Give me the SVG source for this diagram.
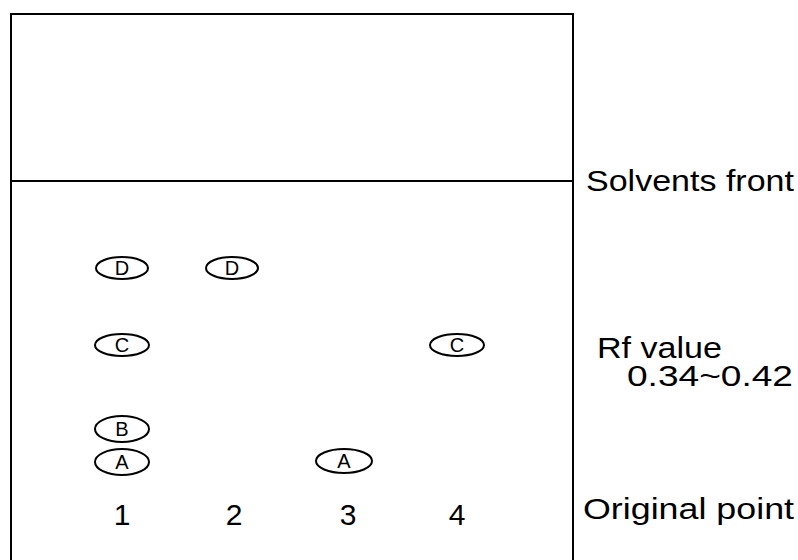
<svg xmlns="http://www.w3.org/2000/svg" width="798" height="560" viewBox="0 0 798 560">
<style>
.ln{fill:none;stroke:#000;stroke-width:2}
.sp{fill:#fff;stroke:#000;stroke-width:2}
.sl{font-family:"Liberation Sans",Arial,sans-serif;font-size:20px;text-anchor:middle;fill:#000}
.lb{font-family:"Liberation Sans",Arial,sans-serif;font-size:29px;fill:#000}
.nm{font-family:"Liberation Sans",Arial,sans-serif;font-size:30px;text-anchor:middle;fill:#000}
</style>
<rect width="798" height="560" fill="#fff"/>
<g id="plate">
<path class="ln" d="M11,560 V14 H573 V560"/>
<line class="ln" x1="11" y1="181" x2="573" y2="181"/>
</g>
<g id="spot-D1"><ellipse class="sp" cx="122" cy="268" rx="26" ry="11"/><text class="sl" x="122" y="275">D</text></g>
<g id="spot-D2"><ellipse class="sp" cx="232" cy="268" rx="26" ry="11"/><text class="sl" x="232" y="275">D</text></g>
<g id="spot-C1"><ellipse class="sp" cx="122" cy="345" rx="27" ry="11"/><text class="sl" x="122" y="352">C</text></g>
<g id="spot-C4"><ellipse class="sp" cx="457" cy="345" rx="27" ry="11"/><text class="sl" x="457" y="352">C</text></g>
<g id="spot-B1"><ellipse class="sp" cx="122" cy="429" rx="27" ry="13"/><text class="sl" x="122" y="436">B</text></g>
<g id="spot-A1"><ellipse class="sp" cx="122" cy="462" rx="27" ry="13"/><text class="sl" x="122" y="469">A</text></g>
<g id="spot-A3"><ellipse class="sp" cx="344" cy="461" rx="28" ry="12"/><text class="sl" x="344" y="468">A</text></g>
<g id="lanes">
<text class="nm" x="122" y="525">1</text>
<text class="nm" x="234" y="525">2</text>
<text class="nm" x="348" y="525">3</text>
<text class="nm" x="457" y="525">4</text>
</g>
<g id="labels">
<text class="lb" x="586" y="191" textLength="208" lengthAdjust="spacingAndGlyphs">Solvents front</text>
<text class="lb" x="597" y="358" textLength="125" lengthAdjust="spacingAndGlyphs">Rf value</text>
<text class="lb" x="627" y="386" textLength="166" lengthAdjust="spacingAndGlyphs">0.34~0.42</text>
<text class="lb" x="583" y="519" textLength="211" lengthAdjust="spacingAndGlyphs">Original point</text>
</g>
</svg>
